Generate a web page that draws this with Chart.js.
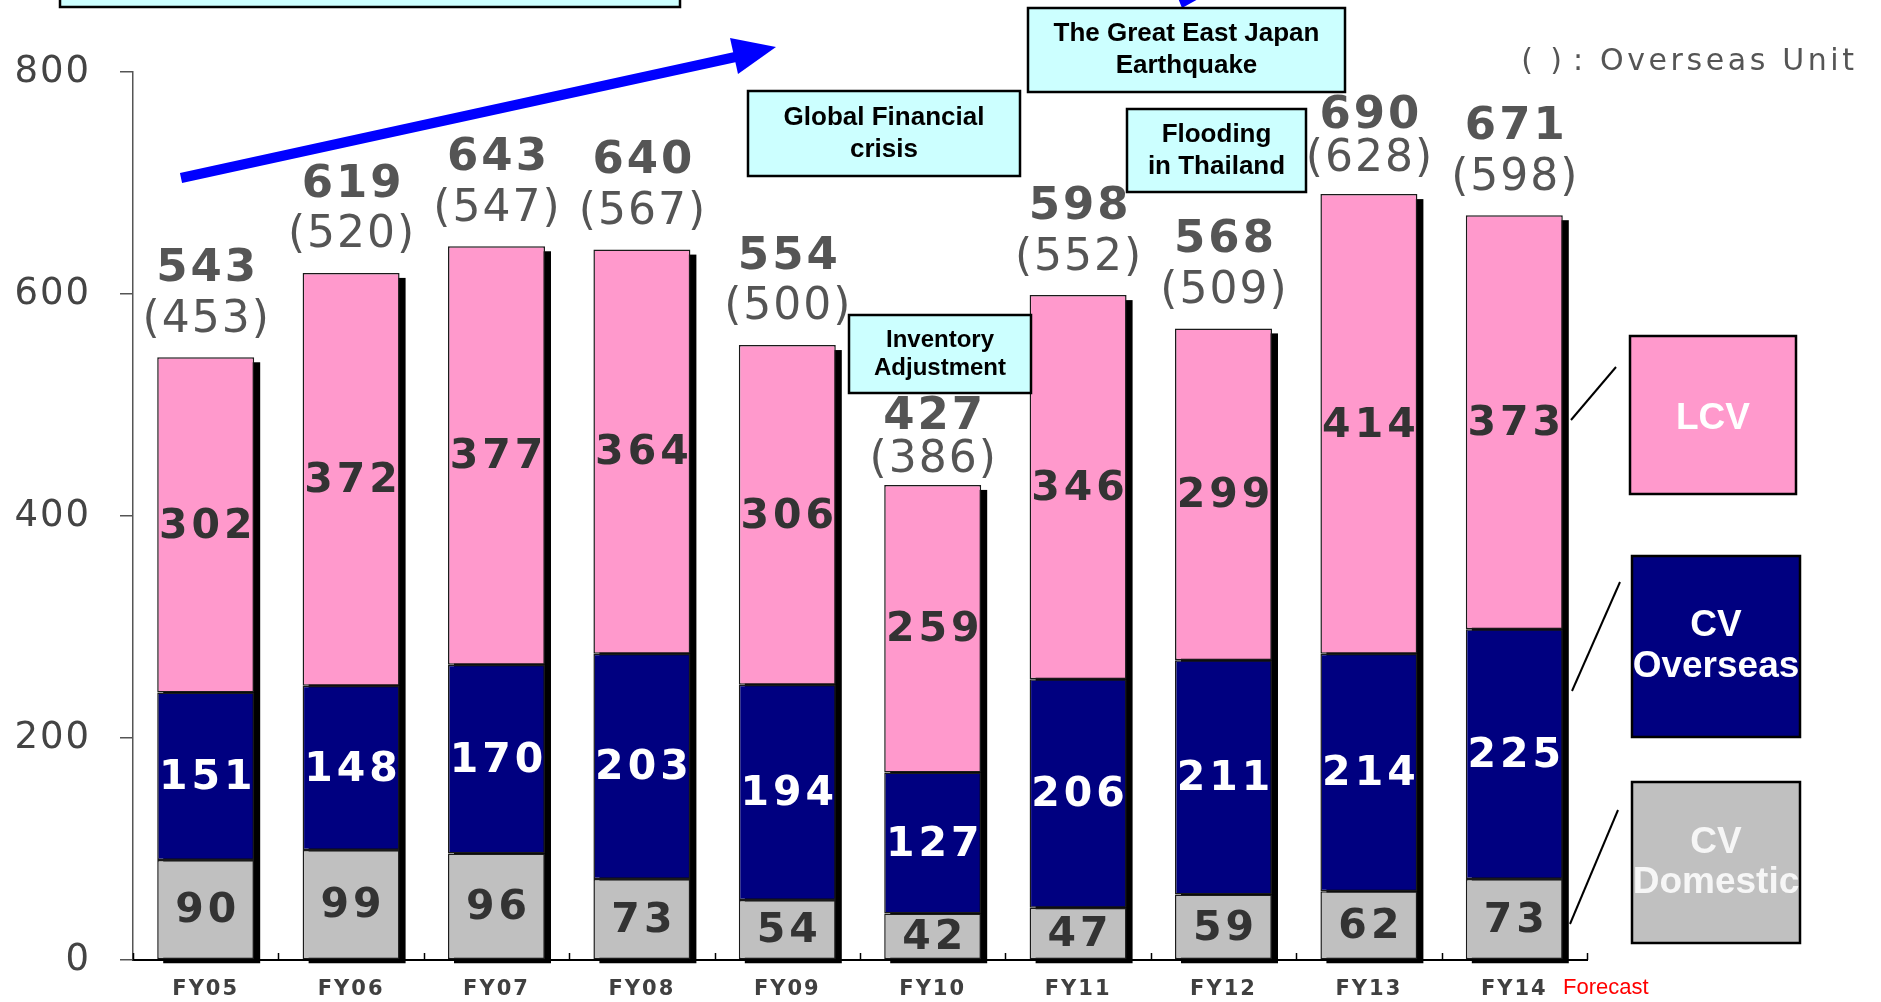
<!DOCTYPE html>
<html>
<head>
<meta charset="utf-8">
<script src="https://cdn.jsdelivr.net/npm/chart.js@4.4.0/dist/chart.umd.min.js"></script>
<style>
  html, body { margin: 0; padding: 0; background: #fff; }
  canvas { display: block; }
</style>
</head>
<body>
<canvas id="unitChart" width="1881" height="1002"></canvas>
<script>
// fiscal years on the x axis
const fiscalYears = ['FY05', 'FY06', 'FY07', 'FY08', 'FY09', 'FY10', 'FY11', 'FY12', 'FY13', 'FY14'];

// units (thousand) per segment, bottom to top
const cvDomestic = [90, 99, 96, 73, 54, 42, 47, 59, 62, 73];
const cvOverseas = [151, 148, 170, 203, 194, 127, 206, 211, 214, 225];
const lcvUnits   = [302, 372, 377, 364, 306, 259, 346, 299, 414, 373];

// labels above each bar
const totalUnits    = [543, 619, 643, 640, 554, 427, 598, 568, 690, 671];
const overseasUnits = [453, 520, 547, 567, 500, 386, 552, 509, 628, 598];

const yTicks = [0, 200, 400, 600, 800];

const PINK = '#ff99cc';
const NAVY = '#000080';
const GREY = '#c0c0c0';
const CYAN = '#ccffff';

// event boxes: x, y, w, h, text lines
const eventBoxes = [
  { x: 60, y: -20, w: 620, h: 27, lines: [] },
  { x: 748, y: 91, w: 272, h: 85, lines: ['Global Financial', 'crisis'] },
  { x: 1028, y: 8, w: 317, h: 84, lines: ['The Great East Japan', 'Earthquake'] },
  { x: 1127, y: 109, w: 179, h: 83, lines: ['Flooding', 'in Thailand'] },
  { x: 849, y: 315, w: 182, h: 78, lines: ['Inventory', 'Adjustment'], small: true }
];

// wider letter spacing for the axis labels, reset before the bars
const spacingPlugin = {
  id: 'spacing',
  beforeDraw(chart) { chart.ctx.letterSpacing = '2px'; },
  beforeDatasetsDraw(chart) { chart.ctx.letterSpacing = '0px'; }
};

// black drop shadow behind every stack
const shadowPlugin = {
  id: 'shadow',
  beforeDatasetsDraw(chart) {
    const ctx = chart.ctx;
    const bottomMeta = chart.getDatasetMeta(0);
    const topMeta = chart.getDatasetMeta(chart.data.datasets.length - 1);
    ctx.save();
    ctx.fillStyle = '#000';
    topMeta.data.forEach((el, i) => {
      const base = bottomMeta.data[i].base;
      const left = el.x - el.width / 2;
      ctx.fillRect(left + 6, el.y + 5, el.width, base - el.y - 1);
    });
    ctx.restore();
  }
};

// numbers inside the segments and the totals above the bars
const labelPlugin = {
  id: 'labels',
  afterDatasetsDraw(chart) {
    const ctx = chart.ctx;
    ctx.save();
    ctx.textAlign = 'center';
    ctx.textBaseline = 'middle';
    ctx.font = 'bold 41px "DejaVu Sans"';
    ctx.letterSpacing = '4px';
    chart.data.datasets.forEach((ds, d) => {
      const meta = chart.getDatasetMeta(d);
      ctx.fillStyle = ds.labelColor;
      meta.data.forEach((el, i) => {
        ctx.fillText(String(ds.data[i]), el.x + 2, (el.y + el.base) / 2 + 2);
      });
    });

    const topMeta = chart.getDatasetMeta(chart.data.datasets.length - 1);
    ctx.fillStyle = '#555';
    topMeta.data.forEach((el, i) => {
      let totalY = el.y - 88;
      let overY = el.y - 37;
      // keep the total clear of an event box sitting above it
      eventBoxes.forEach(b => {
        const hitX = el.x + 48 > b.x && el.x - 48 < b.x + b.w;
        const hitY = totalY - 18 < b.y + b.h && totalY + 18 > b.y;
        if (hitX && hitY) {
          totalY = b.y + b.h + 24;
          overY = Math.max(overY, totalY + 44);
        }
      });
      ctx.letterSpacing = '3px';
      ctx.font = 'bold 45px "DejaVu Sans"';
      ctx.fillText(String(totalUnits[i]), el.x + 2, totalY);
      ctx.letterSpacing = '2px';
      ctx.font = '44px "DejaVu Sans"';
      ctx.fillText('(' + overseasUnits[i] + ')', el.x + 1, overY);
    });
    ctx.restore();
  }
};

function drawBox(ctx, x, y, w, h, fill, lines, font, color, gap) {
  ctx.fillStyle = fill;
  ctx.fillRect(x, y, w, h);
  ctx.lineWidth = 2.5;
  ctx.strokeStyle = '#000';
  ctx.strokeRect(x, y, w, h);
  ctx.fillStyle = color;
  ctx.font = font;
  ctx.textAlign = 'center';
  ctx.textBaseline = 'middle';
  const cy = y + h / 2 - (lines.length - 1) * gap / 2;
  lines.forEach((t, k) => ctx.fillText(t, x + w / 2, cy + k * gap));
}

// annotations, arrow, legend boxes, category ticks
const decorPlugin = {
  id: 'decor',
  afterDraw(chart) {
    const ctx = chart.ctx;
    const xs = chart.scales.x;
    ctx.save();
    ctx.letterSpacing = '0px';

    // small ticks on the x axis between categories
    ctx.strokeStyle = '#000';
    ctx.lineWidth = 1.5;
    const step = xs.width / fiscalYears.length;
    for (let i = 0; i <= fiscalYears.length; i++) {
      const x = Math.round(xs.left + i * step) + 0.5;
      ctx.beginPath();
      ctx.moveTo(x, xs.top);
      ctx.lineTo(x, xs.top - 7);
      ctx.stroke();
    }

    // blue growth arrow
    ctx.strokeStyle = '#0000ff';
    ctx.fillStyle = '#0000ff';
    ctx.lineWidth = 10;
    ctx.beginPath();
    ctx.moveTo(181, 178);
    ctx.lineTo(740, 56);
    ctx.stroke();
    ctx.beginPath();
    ctx.moveTo(776, 47);
    ctx.lineTo(738, 74);
    ctx.lineTo(730, 38);
    ctx.closePath();
    ctx.fill();
    // tip of a second arrow cut by the top edge
    ctx.beginPath();
    ctx.moveTo(1200, -2);
    ctx.lineTo(1182, 8);
    ctx.lineTo(1178, -2);
    ctx.closePath();
    ctx.fill();

    // event boxes
    eventBoxes.forEach(b => {
      const font = b.small ? 'bold 24px "Liberation Sans", Arial, sans-serif'
                           : 'bold 26px "Liberation Sans", Arial, sans-serif';
      drawBox(ctx, b.x, b.y, b.w, b.h, CYAN, b.lines, font, '#000', b.small ? 28 : 32);
    });

    // unit note
    ctx.fillStyle = '#555';
    ctx.font = '30px "DejaVu Sans"';
    ctx.textAlign = 'center';
    ctx.textBaseline = 'middle';
    ctx.fillText('(', 1527, 62);
    ctx.fillText(')', 1556, 62);
    ctx.fillText(':', 1578, 62);
    ctx.textAlign = 'left';
    ctx.letterSpacing = '3.6px';
    ctx.fillText('Overseas Unit', 1600, 62);
    ctx.letterSpacing = '0px';

    // legend boxes with leader lines
    const legFont = 'bold 37px "Liberation Sans", Arial, sans-serif';
    drawBox(ctx, 1630, 336, 166, 158, PINK, [], legFont, '#fff', 0);
    ctx.fillText('LCV', 1713, 419);
    drawBox(ctx, 1632, 556, 168, 181, NAVY, ['CV', 'Overseas'], legFont, '#fff', 41);
    drawBox(ctx, 1632, 782, 168, 161, GREY, ['CV', 'Domestic'], legFont, '#f6f6f6', 40);
    ctx.strokeStyle = '#000';
    ctx.lineWidth = 2;
    [[1571, 420, 1616, 367], [1572, 691, 1620, 582], [1570, 924, 1618, 810]].forEach(l => {
      ctx.beginPath();
      ctx.moveTo(l[0], l[1]);
      ctx.lineTo(l[2], l[3]);
      ctx.stroke();
    });

    // forecast note next to the last category
    ctx.fillStyle = '#ff0000';
    ctx.font = '22px "Liberation Sans Narrow", "Liberation Sans", sans-serif';
    ctx.textAlign = 'left';
    ctx.fillText('Forecast', 1563, 988);

    ctx.restore();
  }
};

new Chart(document.getElementById('unitChart').getContext('2d'), {
  type: 'bar',
  data: {
    labels: fiscalYears,
    datasets: [
      { label: 'CV Domestic', data: cvDomestic, backgroundColor: GREY, labelColor: '#333' },
      { label: 'CV Overseas', data: cvOverseas, backgroundColor: NAVY, labelColor: '#fff' },
      { label: 'LCV', data: lcvUnits, backgroundColor: PINK, labelColor: '#333' }
    ].map(ds => Object.assign(ds, {
      borderColor: '#1a1a1a',
      borderWidth: 1.5,
      borderSkipped: false,
      barPercentage: 0.667,
      categoryPercentage: 1.0
    }))
  },
  options: {
    responsive: false,
    devicePixelRatio: 1,
    animation: false,
    layout: { padding: { top: 72, right: 294, left: 0, bottom: 0 } },
    plugins: {
      legend: { display: false },
      tooltip: { enabled: false }
    },
    scales: {
      x: {
        stacked: true,
        afterFit: s => { s.height = 42; },
        border: { display: true, color: '#000', width: 2 },
        grid: { display: true, drawOnChartArea: false, drawTicks: false, color: 'rgba(0,0,0,0)' },
        ticks: {
          padding: 17,
          color: '#404040',
          font: { family: 'DejaVu Sans', size: 21, weight: 'bold' }
        }
      },
      y: {
        stacked: true,
        min: 0,
        max: 800,
        afterFit: s => { s.width = 133; s.paddingTop = 0; s.paddingBottom = 0; },
        afterBuildTicks: s => { s.ticks = yTicks.map(v => ({ value: v })); },
        border: { display: true, color: '#555', width: 1.5 },
        grid: { drawOnChartArea: false, drawTicks: true, tickLength: 13, color: '#555', lineWidth: 1.5 },
        ticks: {
          padding: 29,
          color: '#444',
          font: { family: 'DejaVu Sans', size: 37 }
        }
      }
    }
  },
  plugins: [spacingPlugin, shadowPlugin, labelPlugin, decorPlugin]
});
</script>
</body>
</html>
